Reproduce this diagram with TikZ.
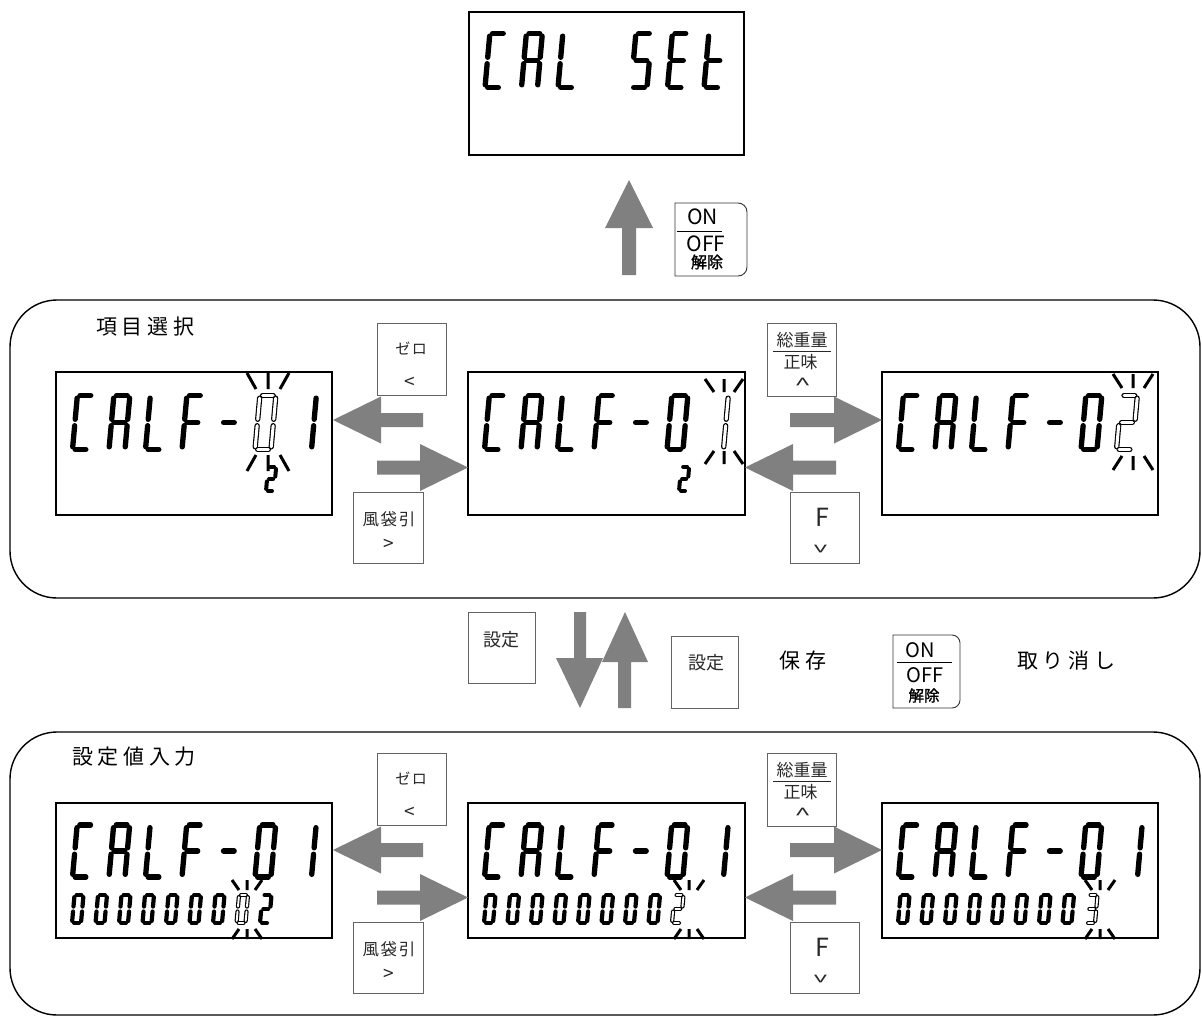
\documentclass[tikz,border=0pt]{standalone}
\usepackage{fontspec}
\setmainfont{Noto Sans CJK JP}
\newfontfamily\jpsp[LetterSpace=22]{Noto Sans CJK JP}
\newfontfamily\jpkey[LetterSpace=10]{Noto Sans CJK JP}
\newfontfamily\jpbold[FakeBold=1.5]{Noto Sans CJK JP}
\definecolor{arrowgray}{RGB}{128,128,128}
\definecolor{keyline}{RGB}{100,100,100}
\definecolor{keytext}{RGB}{40,40,40}

% ---------- seven-segment glyphs ----------
\def\segpa{(\lg,-\lH) -- (\lW-\lg,-\lH)}
\def\segpb{(\lW,-\lH+\lg) -- (\lW,-\lH/2-\lm)}
\def\segpc{(\lW,-\lH/2+\lm) -- (\lW,-\lg)}
\def\segpd{(\lg,0) -- (\lW-\lg,0)}
\def\segpe{(0,-\lg) -- (0,-\lH/2+\lm)}
\def\segpf{(0,-\lH/2-\lm) -- (0,-\lH+\lg)}
\def\segpg{(\lg,-\lH/2) -- (\lW-\lg,-\lH/2)}
\expandafter\def\csname lcdgC\endcsname{a,d,e,f}
\expandafter\def\csname lcdgA\endcsname{a,b,c,e,f,g}
\expandafter\def\csname lcdgL\endcsname{d,e,f}
\expandafter\def\csname lcdgF\endcsname{a,e,f,g}
\expandafter\def\csname lcdg-\endcsname{g}
\expandafter\def\csname lcdg0\endcsname{a,b,c,d,e,f}
\expandafter\def\csname lcdg1\endcsname{b,c}
\expandafter\def\csname lcdg2\endcsname{a,b,g,e,d}
\expandafter\def\csname lcdg3\endcsname{a,b,g,c,d}
\expandafter\def\csname lcdgS\endcsname{a,f,g,c,d}
\expandafter\def\csname lcdgE\endcsname{a,d,e,f,g}
\expandafter\def\csname lcdgt\endcsname{d,e,f,g}
\newcommand\lcdsize[3]{\def\lH{#1}\def\lW{#2}\def\llw{#3pt}%
  \pgfmathsetmacro\lg{#3*0.5}\pgfmathsetmacro\lm{#3*0.6}}
\newcommand\lcdseg[2]{%
  \draw[line width=\llw, line cap=round] #2;%
  \if#1o\draw[white, line width=\llw-2.3pt, line cap=round] #2;\fi}
\newcommand\lcdchar[4]{%
  \begin{scope}[shift={(#2,#3)},xslant=0.09]
    \edef\seglist{\csname lcdg#4\endcsname}%
    \foreach \s in \seglist {%
      \edef\tmp{\noexpand\lcdseg{#1}{\csname segp\s\endcsname}}\tmp
    }%
  \end{scope}}
\newcommand\rays[6]{% cx, top, bottom, outer, inner, length
  \draw[ray] (#1-#4,#2) -- (#1-#5,#2+#6) (#1,#2) -- (#1,#2+#6) (#1+#4,#2) -- (#1+#5,#2+#6)
    (#1-#5,#3) -- (#1-#4,#3+#6) (#1,#3) -- (#1,#3+#6) (#1+#5,#3) -- (#1+#4,#3+#6);}

% ---------- block arrows ----------
\newcommand\larrow[3]{% tip x, y, tail x
  \fill[arrowgray] (#1,#2) -- (#1+48,#2-23.5) -- (#1+48,#2-7) -- (#3,#2-7) -- (#3,#2+7)
    -- (#1+48,#2+7) -- (#1+48,#2+23.5) -- cycle;}
\newcommand\rarrow[3]{% tip x, y, tail x
  \fill[arrowgray] (#1,#2) -- (#1-48,#2-23.5) -- (#1-48,#2-7) -- (#3,#2-7) -- (#3,#2+7)
    -- (#1-48,#2+7) -- (#1-48,#2+23.5) -- cycle;}
\newcommand\upchev{\scalebox{1.5}[0.85]{\rotatebox{-90}{<}}}
\newcommand\downchev{\scalebox{1.5}[0.85]{\rotatebox{90}{<}}}

\tikzset{
  disp/.style={draw=black, line width=1.4pt},
  keybox/.style={draw=keyline, line width=0.9pt, fill=white},
  grp/.style={draw=black, line width=1.4pt, rounded corners=47pt},
  ray/.style={line width=3pt, black},
  lbl/.style={inner sep=0pt, font=\jpsp\fontsize{21}{21}\selectfont},
  keytxt/.style={inner sep=0pt, text=keytext, font=\jpkey\fontsize{15}{15}\selectfont},
  keysym/.style={inner sep=0pt, text=keytext, font=\fontsize{19}{19}\selectfont},
}

\begin{document}
\begin{tikzpicture}[x=1pt,y=-1pt]
\useasboundingbox (0,0) rectangle (1202,1017);
\fill[white] (0,0) rectangle (1202,1017);

% ===== top display =====
\draw[disp] (469,12) rectangle (744,155);
\lcdsize{54}{16}{5.3}
\foreach \ch/\i in {C/0,A/1,L/2,S/4,E/5,t/6} {\lcdchar{s}{485+\i*36.5}{87.5}{\ch}}

% up arrow + ON/OFF key
\fill[arrowgray] (629,180) -- (653,228) -- (636,228) -- (636,275) -- (622,275) -- (622,228) -- (605,228) -- cycle;
\draw[keybox, draw=black!80] (675,203) -- (738,203) arc(90:0:9pt) -- (747,267) arc(0:-90:9pt) -- (675,276) -- cycle;
\node[inner sep=0pt, font=\fontsize{21}{21}\selectfont] (on1) at (702.5,216.5) {ON};
\draw[line width=0.8pt] (677,231) -- (722,231);
\node[inner sep=0pt, font=\fontsize{21}{21}\selectfont] (off1) at (706,243.5) {OFF};
\node[inner sep=0pt, font=\jpbold\fontsize{16}{16}\selectfont] (kj1) at (707,262) {解除};

% ===== group 1 =====
\draw[grp] (10,300) rectangle (1200,598);
\node[lbl, anchor=west] (g1) at (96,327) {項目選択};

\draw[disp] (56,372) rectangle (332,515);
\draw[disp] (468,372) rectangle (745,515);
\draw[disp] (882,372) rectangle (1158,515);

\lcdsize{54}{16}{5.3}
\foreach \ch/\i in {C/0,A/1,L/2,F/3,-/4} {\lcdchar{s}{72.5+\i*36.5}{449.5}{\ch}}
\lcdchar{o}{72.5+5*36.5}{449.5}{0}
\lcdchar{s}{72.5+6*36.5+4}{449.5}{1}
\foreach \ch/\i in {C/0,A/1,L/2,F/3,-/4,0/5} {\lcdchar{s}{484.5+\i*36.5}{449.5}{\ch}}
\lcdchar{o}{484.5+6*36.5+4}{449.5}{1}
\foreach \ch/\i in {C/0,A/1,L/2,F/3,-/4,0/5} {\lcdchar{s}{898.5+\i*36.5}{449.5}{\ch}}
\lcdchar{o}{898.5+6*36.5-1}{449.5}{2}
\lcdsize{24}{8}{4}
\lcdchar{s}{266}{491}{2}
\lcdchar{s}{679}{491}{2}
\rays{268}{373}{455}{21}{12}{16}
\rays{724}{379}{451}{19}{10}{13}
\rays{1133}{374}{456}{20}{11}{14}

% arrows row 1
\larrow{333}{420}{423}
\rarrow{468}{467.5}{377}
\rarrow{882}{420}{790}
\larrow{745}{467.5}{836}

% keys row 1
\draw[keybox] (377,323) rectangle (446,395);
\node[keytxt] (z1) at (411,348) {ゼロ};
\node[keysym] (z1s) at (410,383) {<};
\draw[keybox] (353,492) rectangle (423,563);
\node[keytxt, font=\jpkey\fontsize{16.5}{16.5}\selectfont] (t1) at (389,519) {風袋引};
\node[keysym] (t1s) at (389,545) {>};
\draw[keybox] (767,323) rectangle (836,396);
\node[inner sep=0pt, text=keytext, font=\fontsize{17}{17}\selectfont] (s1) at (802,340) {総重量};
\draw[keytext, line width=0.9pt] (773,351) -- (831,351);
\node[inner sep=0pt, text=keytext, font=\fontsize{17}{17}\selectfont] (n1) at (800.5,362.5) {正味};
\node[keysym] (n1s) at (801,382) {\upchev};
\draw[keybox] (790,492) rectangle (859,563);
\node[inner sep=0pt, text=keytext, font=\fontsize{25}{25}\selectfont] (f1) at (822,517.5) {F};
\node[keysym] (f1s) at (823,549) {\downchev};

% ===== middle section =====
\draw[keybox] (468,612) rectangle (535,683);
\node[inner sep=0pt, text=keytext, font=\fontsize{18}{18}\selectfont] (set1) at (501,640) {設定};
\fill[arrowgray] (574,612) -- (586,612) -- (586,658) -- (603,658) -- (580,708) -- (556,658) -- (574,658) -- cycle;
\fill[arrowgray] (625,612) -- (648,662) -- (631,662) -- (631,708) -- (618,708) -- (618,662) -- (602,662) -- cycle;
\draw[keybox] (671,636) rectangle (738,708);
\node[inner sep=0pt, text=keytext, font=\fontsize{18}{18}\selectfont] (set2) at (706,663) {設定};
\node[lbl] (hozon) at (803,661) {保存};
\draw[keybox, draw=black!80] (893,635) -- (952,635) arc(90:0:8pt) -- (960,700) arc(0:-90:8pt) -- (893,708) -- cycle;
\node[inner sep=0pt, font=\fontsize{20}{20}\selectfont] (on2) at (920.5,650) {ON};
\draw[line width=0.8pt] (897,662) -- (952,662);
\node[inner sep=0pt, font=\fontsize{20}{20}\selectfont] (off2) at (925,675) {OFF};
\node[inner sep=0pt, font=\jpbold\fontsize{15.5}{15.5}\selectfont] (kj2) at (924,695.5) {解除};
\node[lbl, anchor=west] (cancel) at (1017,661) {取り消し};

% ===== group 2 =====
\draw[grp] (10,732) rectangle (1200,1015);
\node[lbl, anchor=west] (g2) at (72,757) {設定値入力};

\draw[disp] (56,803) rectangle (332,938);
\draw[disp] (468,803) rectangle (745,938);
\draw[disp] (882,803) rectangle (1158,938);

\lcdsize{52}{16}{5.3}
\foreach \L in {56,468,882} {%
  \foreach \ch/\i in {C/0,A/1,L/2,F/3,-/4,0/5} {\lcdchar{s}{\L+16.5+\i*36.5}{877}{\ch}}
  \lcdchar{s}{\L+16.5+6*36.5+4}{877}{1}
}
\lcdsize{28}{9}{4.2}
\foreach \i in {0,...,6} {\lcdchar{s}{72+\i*23.5}{923}{0}}
\lcdchar{o}{72+7*23.5}{923}{0}
\lcdchar{s}{72+8*23.5}{923}{2}
\foreach \i in {0,...,7} {\lcdchar{s}{484+\i*23.5}{923}{0}}
\lcdchar{o}{484+8*23.5}{923}{2}
\foreach \i in {0,...,7} {\lcdchar{s}{898+\i*23.5}{923}{0}}
\lcdchar{o}{898+8*23.5}{923}{3}
\rays{247}{880}{929}{15}{8}{10}
\rays{689}{880}{929}{15}{8}{10}
\rays{1100}{880}{929}{15}{8}{10}

% arrows row 2
\larrow{333}{850}{423}
\rarrow{468}{897.5}{377}
\rarrow{882}{850}{790}
\larrow{745}{897.5}{836}

% keys row 2
\draw[keybox] (377,753) rectangle (446,825);
\node[keytxt] (z2) at (411,778) {ゼロ};
\node[keysym] (z2s) at (410,813) {<};
\draw[keybox] (353,922) rectangle (423,993);
\node[keytxt, font=\jpkey\fontsize{16.5}{16.5}\selectfont] (t2) at (389,949) {風袋引};
\node[keysym] (t2s) at (389,975) {>};
\draw[keybox] (767,753) rectangle (836,826);
\node[inner sep=0pt, text=keytext, font=\fontsize{17}{17}\selectfont] (s2) at (802,770) {総重量};
\draw[keytext, line width=0.9pt] (773,781) -- (831,781);
\node[inner sep=0pt, text=keytext, font=\fontsize{17}{17}\selectfont] (n2) at (800.5,792.5) {正味};
\node[keysym] (n2s) at (801,812) {\upchev};
\draw[keybox] (790,922) rectangle (859,993);
\node[inner sep=0pt, text=keytext, font=\fontsize{25}{25}\selectfont] (f2) at (822,947.5) {F};
\node[keysym] (f2s) at (823,979) {\downchev};
\end{tikzpicture}
\end{document}
